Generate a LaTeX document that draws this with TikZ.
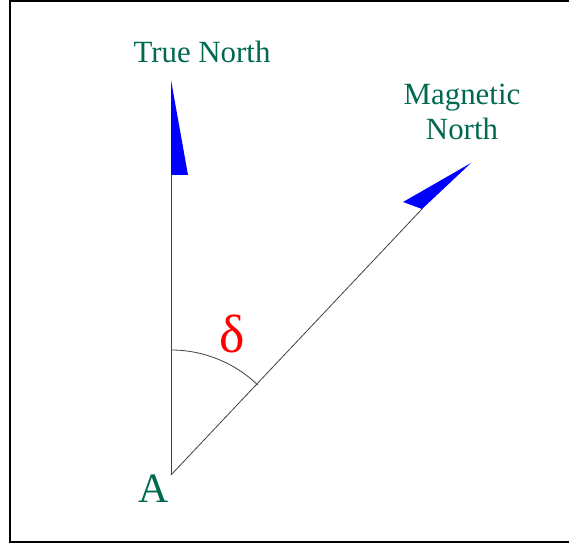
\documentclass[tikz,border=0pt]{standalone}
\usepackage{fontspec}
\setmainfont{Liberation Serif}
\usepackage{tikz}

\definecolor{labelgreen}{RGB}{0,105,80}

\begin{document}
\begin{tikzpicture}[x=1bp, y=-1bp,
    label/.style={text=labelgreen, font=\fontsize{31}{35}\selectfont, align=center, inner sep=0pt},
    flag/.style={fill=blue, draw=none},
    line/.style={draw=black!75, line width=0.8bp}]
                \useasboundingbox (0,0) rectangle (569,544);
                % Frame
                \draw[line width=2bp] (575,1) -- (10,1) -- (10,542) -- (575,542);

                % Nodes
                \coordinate (A) at (171,475);
                \coordinate (tn) at (171,175);
                \coordinate (tntip) at (171,80);
                \coordinate (tnside) at (188,175);
                \coordinate (mn) at (422,209);
                \coordinate (mntip) at (471,163);
                \coordinate (mnside) at (403,202);
                \node[label] (true) at (202,52) {True North};
                \node[label] (mag) at (462,112) {Magnetic\\North};
                \node[label, font=\fontsize{42}{42}\selectfont] (a) at (154,489) {A};
                \node[text=red, font=\fontsize{54}{54}\selectfont, inner sep=0pt] (delta) at (232,334) {δ};

                % Edges
                \draw[line] (A) -- (tn);
                \draw[line] (A) -- (mn);
                \fill[flag] (tn) -- (tntip) -- (tnside) -- cycle;
                \fill[flag] (mn) -- (mntip) -- (mnside) -- cycle;
                \draw[line] (171,350) arc[start angle=-90, end angle=-46, radius=125];
            \end{tikzpicture}
\end{document}
